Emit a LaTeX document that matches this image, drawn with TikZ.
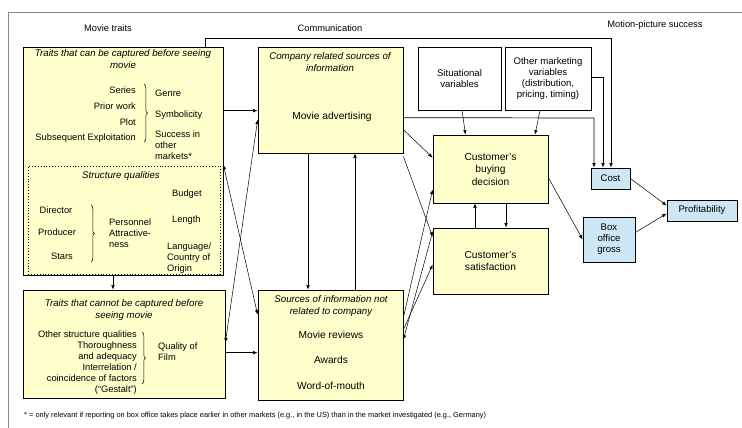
\documentclass[tikz,border=0pt]{standalone}
\usepackage{fontspec}
\setmainfont{Liberation Sans}
\usepackage{tikz}
\usetikzlibrary{positioning, arrows.meta, decorations.pathreplacing}
\definecolor{traityellow}{HTML}{FFFFCC}
\definecolor{successblue}{HTML}{CDE8F4}
\definecolor{framegray}{HTML}{8A8A8A}
\tikzset{% 
	>={Latex[length=4.5pt,width=3.5pt]},
	every edge/.append style={line width = 0.5pt},
	box/.style = {name = #1, draw, line width = 0.7pt, fill = traityellow, inner sep = 0pt, align = center, font = \fontsize{10.2}{12.5}\selectfont},
	wbox/.style = {box = {#1}, fill = white, font = \fontsize{9.6}{11}\selectfont},
	bbox/.style = {box = {#1}, fill = successblue, font = \fontsize{9.6}{11}\selectfont},
	sbox/.style = {name = #1, draw, dotted, line width = 0.9pt, inner sep = 0pt},
	ttl/.style = {inner sep = 0pt, align = center, font = \fontsize{9.7}{11.5}\selectfont\itshape},
	item/.style = {inner sep = 0pt, font = \fontsize{9.3}{11}\selectfont},
	bigitem/.style = {inner sep = 0pt, font = \fontsize{10.2}{12}\selectfont},
	head/.style = {inner sep = 0pt, font = \fontsize{9.3}{11}\selectfont},
	note/.style = {inner sep = 0pt, font = \fontsize{7.4}{8}\selectfont},
	brace/.style = {decorate, decoration = {brace, amplitude = 3.5pt}, line width = 0.5pt},
	frame/.style = {draw = framegray, line width = 0.6pt}
}
\begin{document}
\begin{tikzpicture}[x = 1pt, y = -1pt]
			\useasboundingbox (0,0) rectangle (742,428);
			\draw [frame] (8,428) |- (742,12);
			\node [head] (hTraits) at (108,28) {Movie traits};
			\node [head] (hComm) at (330,28) {Communication};
			\node [head] (hSucc) at (655,25) {Motion-picture success};
			% movie traits
			\node [box = {A}, minimum width = 200pt, minimum height = 228pt] at (123,161) {};
			\node [ttl] (tA) at (123,59) {Traits that can be captured before seeing\\movie};
			\node [item, anchor = east] (series) at (136,90) {Series};
			\node [item, anchor = east] (prior) at (136,106) {Prior work};
			\node [item, anchor = east] (plot) at (136,122) {Plot};
			\node [item, anchor = east] (subseq) at (136,138) {Subsequent Exploitation};
			\draw [brace] (144,84) -- (144,142);
			\node [item, anchor = west] (genre) at (155,93) {Genre};
			\node [item, anchor = west] (symb) at (155,115) {Symbolicity};
			\node [item, anchor = west, align = left] (succ) at (155,145) {Success in\\other\\markets*};
			\node [sbox = {Sq}, minimum width = 192pt, minimum height = 108pt] at (124,220) {};
			\node [ttl] (tSq) at (121,176) {Structure qualities};
			\node [item] (dir) at (56,210) {Director};
			\node [item] (prod) at (57,232) {Producer};
			\node [item] (stars) at (62,256) {Stars};
			\draw [brace] (91,205) -- (91,262);
			\node [item, anchor = west, align = left] (pers) at (109,233) {Personnel\\Attractive-\\ness};
			\node [item, anchor = west] (budget) at (172,194) {Budget};
			\node [item, anchor = west] (length) at (172,220) {Length};
			\node [item, anchor = west, align = left] (lang) at (167,258) {Language/\\Country of\\Origin};
			\node [box = {B}, minimum width = 202pt, minimum height = 108pt] at (124,344) {};
			\node [ttl] (tB) at (124,310) {Traits that cannot be captured before\\seeing movie};
			\node [item, anchor = east, align = right] (other) at (137,363) {Other structure qualities\\Thoroughness\\and adequacy\\Interrelation /\\coincidence of factors\\(``Gestalt'')};
			\draw [brace] (142,332) -- (142,384);
			\node [item, anchor = west, align = left] (qual) at (158,352) {Quality of\\Film};
			% communication
			\node [box = {C}, minimum width = 145pt, minimum height = 106pt] at (330.5,100) {};
			\node [ttl] (tC) at (330,62) {Company related sources of\\information};
			\node [bigitem] (adv) at (332,117) {Movie advertising};
			\node [box = {D}, minimum width = 145pt, minimum height = 110pt] at (330.5,345) {};
			\node [ttl] (tD) at (331,306) {Sources of information not\\related to company};
			\node [bigitem] (rev) at (331,335) {Movie reviews};
			\node [bigitem] (awards) at (331,360) {Awards};
			\node [bigitem] (wom) at (331,386) {Word-of-mouth};
			% customer and success
			\node [wbox = {S}, minimum width = 83pt, minimum height = 63pt] at (459.5,78.5) {Situational\\variables};
			\node [wbox = {M}, minimum width = 86pt, minimum height = 63pt] at (548,78.5) {Other marketing\\variables\\(distribution,\\pricing, timing)};
			\node [box = {E}, minimum width = 115pt, minimum height = 68pt] at (490.5,169) {Customer's\\buying\\decision};
			\node [box = {F}, minimum width = 115pt, minimum height = 66pt] at (490.5,261) {Customer's\\satisfaction};
			\node [bbox = {Cost}, minimum width = 39pt, minimum height = 21pt] at (610.5,178.5) {Cost};
			\node [bbox = {H}, minimum width = 52pt, minimum height = 45pt] at (609,239.5) {Box\\office\\gross};
			\node [bbox = {Profit}, minimum width = 70pt, minimum height = 21pt] at (702,210.5) {Profitability};
			\node [note, anchor = west] (fn) at (24,416) {* = only relevant if reporting on box office takes place earlier in other markets (e.g., in the US) than in the market investigated (e.g., Germany)};
			% costs
			\coordinate (kTop) at (611,38);
			\coordinate (kAdv) at (594,118);
			\coordinate (kMkt) at (603,77);
			\draw [->, line width = 0.7pt] ([xshift = 82pt]A.north) |- (kTop) -- (kTop |- Cost.north);
			\draw [->, line width = 0.7pt] ([yshift = -71pt]C.north east) -- (kAdv) -- (kAdv |- Cost.north);
			\draw [->, line width = 0.7pt] (M.east |- kMkt) -- (kMkt) -- (kMkt |- Cost.north);
			% arrows
			\path [->] ([yshift = -64pt]A.north east) edge ([yshift = -64pt]C.north west);
			\path [<->] ([yshift = -73pt]C.north west) edge ([yshift = -53pt]B.north east);
			\path [<->] ([yshift = -118pt]A.north east) edge ([yshift = -25pt]D.north west);
			\path [->] ([yshift = -63pt]B.north east) edge ([yshift = -63pt]D.north west);
			\path [->] ([xshift = -10pt]A.south) edge ([xshift = -11pt]B.north);
			\path [->] ([xshift = -22.5pt]C.south) edge ([xshift = -22.5pt]D.north);
			\path [->] ([xshift = 24.5pt]D.north) edge ([xshift = 24.5pt]C.south);
			\path [->] ([xshift = 2.5pt]S.south) edge ([xshift = -25pt]E.north);
			\path [->] ([xshift = -8pt]M.south) edge ([xshift = 44.5pt]E.north);
			\path [->] ([yshift = -83pt]C.north east) edge ([yshift = -23pt]E.north west);
			\path [->] ([yshift = -3pt]C.south east) edge ([yshift = -9pt]F.north west);
			\path [->] ([yshift = -28pt]D.north east) edge ([yshift = -55pt]E.north west);
			\path [->] ([yshift = -40pt]D.north east) edge ([yshift = -37pt]F.north west);
			\path [->] ([yshift = -4pt]F.north west) edge ([yshift = -50pt]D.north east);
			\path [->] ([xshift = -15.5pt]F.north) edge ([xshift = -15.5pt]E.south);
			\path [->] ([xshift = 15.5pt]E.south) edge ([xshift = 15.5pt]F.north);
			\path [->] ([yshift = -43pt]E.north east) edge (H.west);
			\path [->] (Cost.east) edge ([yshift = 5pt]Profit.west);
			\path [->] ([yshift = 7pt]H.east) edge ([yshift = -3pt]Profit.west);
\end{tikzpicture}
\end{document}
